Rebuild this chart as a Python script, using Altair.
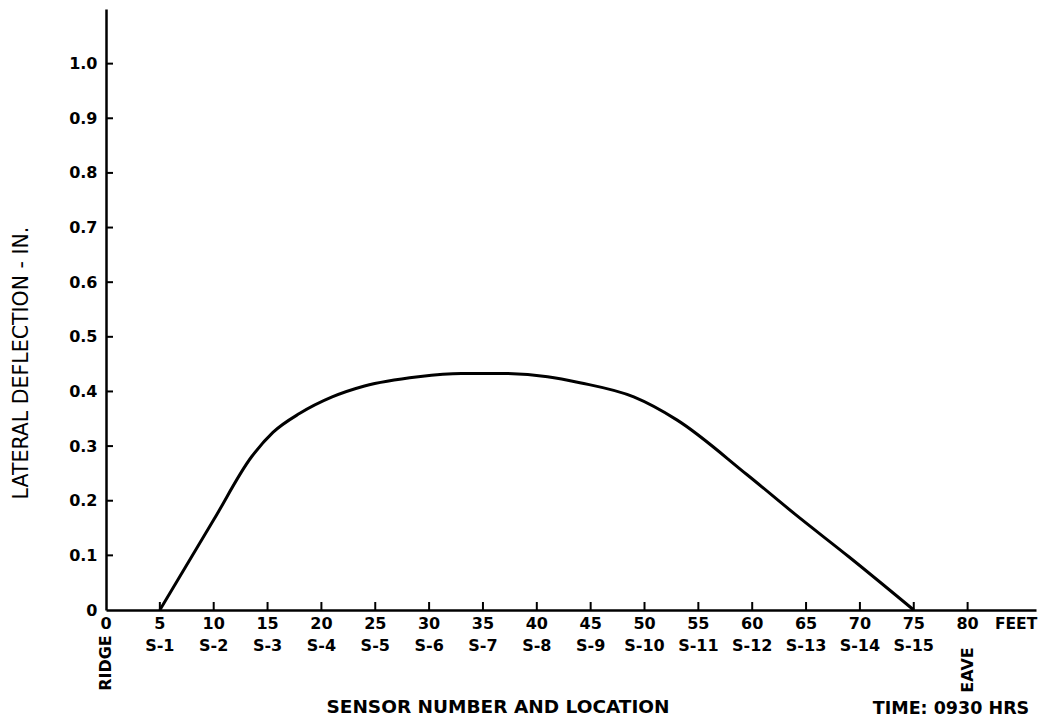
import altair as alt
import pandas as pd

# Curve
feet = [5, 10, 13.5, 15.5, 18, 21, 24, 29, 33, 36.5, 41, 44, 49, 53, 59.5, 64, 69, 75]
deflection = [0, 0.165, 0.28, 0.325, 0.36, 0.39, 0.41, 0.427, 0.433, 0.433, 0.427,
              0.416, 0.39, 0.348, 0.248, 0.175, 0.097, 0]

# Axis texts
x_tick_feet = [0, 5, 10, 15, 20, 25, 30, 35, 40, 45, 50, 55, 60, 65, 70, 75, 80]
x_tick_labels = [str(v) for v in x_tick_feet]
sensor_feet = [5, 10, 15, 20, 25, 30, 35, 40, 45, 50, 55, 60, 65, 70, 75]
sensor_labels = ["S-1", "S-2", "S-3", "S-4", "S-5", "S-6", "S-7", "S-8",
                 "S-9", "S-10", "S-11", "S-12", "S-13", "S-14", "S-15"]
y_ticks = [0.1, 0.2, 0.3, 0.4, 0.5, 0.6, 0.7, 0.8, 0.9, 1.0]
end_labels = ["RIDGE", "EAVE"]
end_feet = [0, 80]
unit_label = ["FEET"]
unit_feet = [84.5]

FONT = "DejaVu Sans"
W, H = 930, 601

xs = alt.Scale(domain=[0, 86.35], nice=False, zero=False)
ys = alt.Scale(domain=[0, 1.1], nice=False, zero=False)

curve = pd.DataFrame({"feet": feet, "defl": deflection})
line = alt.Chart(curve).mark_line(color="black", strokeWidth=3, interpolate="monotone").encode(
    x=alt.X("feet:Q", scale=xs,
            axis=alt.Axis(labels=False, ticks=False, title=None, grid=False,
                          domainColor="black", domainWidth=2.5)),
    y=alt.Y("defl:Q", scale=ys,
            axis=alt.Axis(values=[0] + y_ticks, ticks=False, title=None, grid=False,
                          domainColor="black", domainWidth=2.5,
                          labelExpr="datum.value == 0 ? '0' : format(datum.value, '.1f')",
                          labelFont=FONT, labelFontWeight="bold", labelFontSize=16,
                          labelColor="black", labelPadding=9)),
)

xt = pd.DataFrame({"feet": x_tick_feet, "label": x_tick_labels})
xticks = alt.Chart(xt[xt.feet > 0]).mark_rule(color="black", strokeWidth=2).encode(
    x=alt.X("feet:Q", scale=xs), y=alt.value(H), y2=alt.value(H - 8))
yt = pd.DataFrame({"val": y_ticks})
yticks = alt.Chart(yt).mark_rule(color="black", strokeWidth=2).encode(
    y=alt.Y("val:Q", scale=ys), x=alt.value(0), x2=alt.value(7))

txt = dict(font=FONT, fontWeight="bold", color="black", align="center", baseline="middle")

xnum = alt.Chart(xt).mark_text(fontSize=16, **txt).encode(
    x=alt.X("feet:Q", scale=xs), y=alt.value(615), text="label:N")
sens = alt.Chart(pd.DataFrame({"feet": sensor_feet, "label": sensor_labels})).mark_text(
    fontSize=16, **txt).encode(x=alt.X("feet:Q", scale=xs), y=alt.value(637), text="label:N")
ridge = alt.Chart(pd.DataFrame({"feet": end_feet[:1], "label": end_labels[:1]})).mark_text(
    fontSize=16, angle=270, **txt).encode(x=alt.X("feet:Q", scale=xs), y=alt.value(654), text="label:N")
eave = alt.Chart(pd.DataFrame({"feet": end_feet[1:], "label": end_labels[1:]})).mark_text(
    fontSize=16, angle=270, **txt).encode(x=alt.X("feet:Q", scale=xs), y=alt.value(661), text="label:N")
unit = alt.Chart(pd.DataFrame({"feet": unit_feet, "label": unit_label})).mark_text(
    fontSize=15.5, **txt).encode(x=alt.X("feet:Q", scale=xs), y=alt.value(615), text="label:N")

xtitle = alt.Chart(pd.DataFrame({"t": ["SENSOR NUMBER AND LOCATION"]})).mark_text(
    fontSize=18.5, **txt).encode(x=alt.value(392), y=alt.value(698), text="t:N")
ttitle = alt.Chart(pd.DataFrame({"t": ["TIME: 0930 HRS"]})).mark_text(
    fontSize=17.5, font=FONT, fontWeight="bold", color="black", align="center",
    baseline="alphabetic").encode(x=alt.value(845), y=alt.value(705), text="t:N")
ytitle = alt.Chart(pd.DataFrame({"t": ["LATERAL DEFLECTION - IN."]})).mark_text(
    fontSize=20.5, font=FONT, fontWeight="normal", color="black", align="center",
    baseline="middle", angle=270).encode(x=alt.value(-84), y=alt.value(354), text="t:N")

chart = alt.layer(line, xticks, yticks, xnum, sens, ridge, eave, unit, xtitle, ttitle, ytitle).properties(
    width=W, height=H,
    padding={"left": 98, "top": 1, "right": 5, "bottom": 110},
    autosize=alt.AutoSizeParams(type="none"),
    background="white",
).configure_view(stroke=None)

chart.save("out.html", embed_options={"renderer": "svg", "actions": False})
